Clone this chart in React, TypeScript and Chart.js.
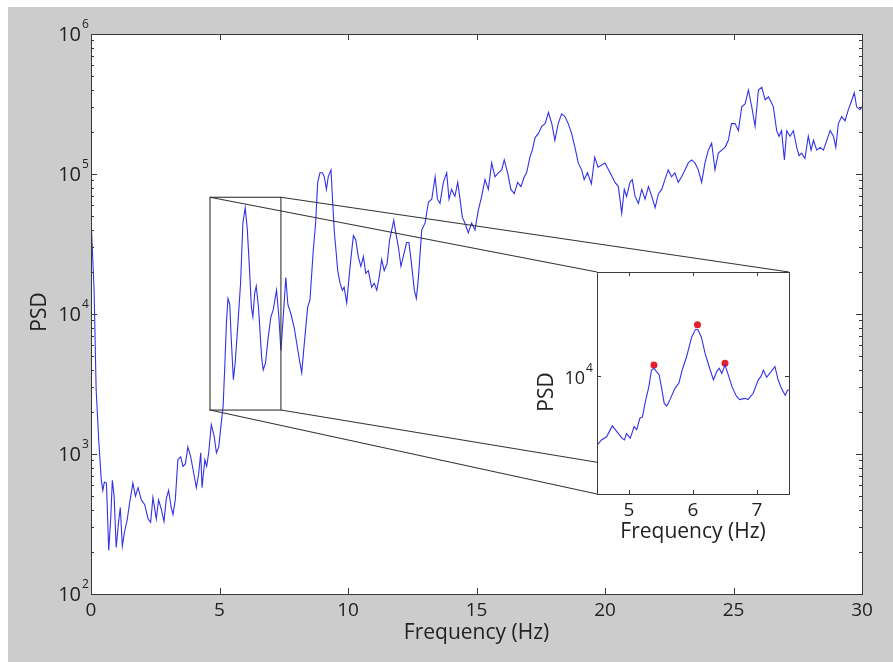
import React, { useEffect, useRef } from 'react';
import { Chart, registerables } from 'chart.js';

Chart.register(...registerables);

// ---------- data ----------
const freq = [
  0, 0.12, 0.2, 0.3, 0.4, 0.46, 0.52, 0.6, 0.69, 0.77,
  0.83, 0.9, 0.98, 1.07, 1.14, 1.22, 1.3, 1.41, 1.5, 1.63,
  1.73, 1.83, 1.96, 2.09, 2.22, 2.32, 2.41, 2.54, 2.63, 2.74,
  2.84, 2.93, 3.02, 3.12, 3.19, 3.28, 3.38, 3.49, 3.58, 3.67,
  3.77, 3.88, 3.97, 4.1, 4.19, 4.27, 4.32, 4.43, 4.5, 4.58,
  4.68, 4.79, 4.88, 4.97, 5.05, 5.14, 5.2, 5.27, 5.33, 5.4,
  5.46, 5.54, 5.61, 5.72, 5.82, 5.91, 6.0, 6.08, 6.17, 6.24,
  6.3, 6.37, 6.43, 6.52, 6.64, 6.7, 6.79, 6.9, 7.0, 7.09,
  7.22, 7.31, 7.39, 7.48, 7.58, 7.66, 7.78, 7.91, 8.04, 8.13,
  8.2, 8.3, 8.43, 8.52, 8.65, 8.74, 8.82, 8.91, 9.0, 9.08,
  9.16, 9.23, 9.34, 9.4, 9.47, 9.52, 9.6, 9.69, 9.78, 9.85,
  9.95, 10.04, 10.12, 10.21, 10.3, 10.4, 10.5, 10.6, 10.69, 10.79,
  10.92, 11.02, 11.12, 11.21, 11.31, 11.41, 11.52, 11.62, 11.7, 11.78,
  11.86, 11.96, 12.06, 12.15, 12.28, 12.37, 12.47, 12.58, 12.66, 12.74,
  12.87, 13.0, 13.13, 13.26, 13.39, 13.48, 13.58, 13.71, 13.84, 13.93,
  14.03, 14.16, 14.27, 14.36, 14.45, 14.55, 14.68, 14.81, 14.94, 15.07,
  15.2, 15.33, 15.46, 15.59, 15.72, 15.85, 15.98, 16.08, 16.21, 16.34,
  16.47, 16.6, 16.73, 16.86, 16.95, 17.08, 17.17, 17.28, 17.41, 17.54,
  17.67, 17.8, 17.93, 18.05, 18.18, 18.31, 18.44, 18.57, 18.7, 18.83,
  18.96, 19.09, 19.19, 19.32, 19.47, 19.6, 19.73, 20.0, 20.2, 20.39,
  20.52, 20.65, 20.75, 20.84, 20.97, 21.06, 21.17, 21.3, 21.43, 21.56,
  21.69, 21.82, 21.95, 22.08, 22.21, 22.33, 22.46, 22.59, 22.72, 22.85,
  22.98, 23.11, 23.24, 23.37, 23.5, 23.63, 23.76, 23.89, 24.02, 24.15,
  24.28, 24.41, 24.54, 24.67, 24.8, 24.92, 25.06, 25.19, 25.32, 25.45,
  25.58, 25.71, 25.84, 25.97, 26.1, 26.23, 26.36, 26.45, 26.55, 26.68,
  26.77, 26.87, 26.98, 27.07, 27.2, 27.33, 27.46, 27.55, 27.65, 27.78,
  27.91, 28.02, 28.11, 28.24, 28.37, 28.5, 28.63, 28.76, 28.89, 28.98,
  29.08, 29.21, 29.34, 29.47, 29.57, 29.7, 29.79, 29.92, 30.0,
];

const psd = [
  49000, 14800, 2900, 1260, 650, 550, 630, 620, 205, 355,
  650, 500, 215, 325, 415, 220, 275, 340, 445, 620,
  500, 575, 470, 435, 345, 325, 490, 345, 470, 400,
  330, 480, 550, 415, 370, 470, 910, 955, 815, 850,
  1120, 955, 775, 575, 725, 1020, 575, 910, 815, 1020,
  1620, 1350, 1020, 1120, 1550, 2190, 3980, 8710, 12900, 11700,
  6460, 3390, 4470, 8710, 16600, 44700, 57500, 40700, 20400, 11200,
  9550, 14100, 15800, 11000, 4900, 3980, 4470, 6920, 9550, 10700,
  14800, 9550, 5500, 9550, 18200, 11700, 10000, 7940, 5620, 4470,
  3800, 6170, 11200, 12600, 28800, 44700, 87100, 102000, 102000, 95500,
  77600, 95500, 107000, 64600, 38000, 30200, 20400, 16600, 14800, 15500,
  12000, 18200, 25700, 36300, 33900, 25700, 21900, 25700, 19500, 20400,
  15500, 16600, 14800, 18200, 24500, 20400, 22900, 33900, 39800, 46800,
  38000, 30200, 21900, 25700, 32400, 32400, 22900, 14800, 12900, 18200,
  39800, 44700, 63100, 66100, 95500, 66100, 61700, 87100, 102000, 66100,
  77600, 69200, 87100, 66100, 49000, 44700, 38000, 44700, 39800, 55000,
  69200, 91200, 77600, 120000, 95500, 102000, 107000, 126000, 102000, 77600,
  72400, 87100, 81300, 95500, 102000, 132000, 148000, 182000, 195000, 219000,
  229000, 275000, 229000, 174000, 229000, 269000, 257000, 229000, 195000, 155000,
  120000, 107000, 91200, 102000, 85100, 132000, 112000, 120000, 102000, 87100,
  81300, 52500, 77600, 69200, 87100, 91200, 69200, 61700, 77600, 66100,
  81300, 69200, 57500, 72400, 77600, 91200, 107000, 95500, 102000, 87100,
  95500, 107000, 120000, 126000, 120000, 107000, 87100, 120000, 148000, 166000,
  107000, 141000, 148000, 155000, 174000, 229000, 229000, 204000, 302000, 316000,
  398000, 302000, 219000, 398000, 417000, 339000, 355000, 331000, 302000, 204000,
  186000, 204000, 126000, 204000, 186000, 204000, 155000, 135000, 141000, 129000,
  186000, 148000, 174000, 148000, 155000, 148000, 174000, 204000, 186000, 155000,
  229000, 257000, 240000, 288000, 324000, 380000, 302000, 288000, 302000,
];

const insetFreq = [
  4.5, 4.57, 4.65, 4.74, 4.81, 4.89, 4.93, 4.96, 5.02, 5.08,
  5.12, 5.17, 5.21, 5.26, 5.31, 5.35, 5.39, 5.43, 5.47, 5.51,
  5.55, 5.59, 5.64, 5.72, 5.78, 5.83, 5.9, 5.98, 6.04, 6.08,
  6.13, 6.19, 6.27, 6.32, 6.37, 6.41, 6.45, 6.5, 6.55, 6.61,
  6.68, 6.73, 6.81, 6.86, 6.94, 7.02, 7.06, 7.1, 7.15, 7.22,
  7.28, 7.33, 7.38, 7.44, 7.48, 7.5,
];
const insetPsd = [
  830, 1000, 1120, 1660, 1350, 1070, 1000, 1260, 1070, 1620,
  1450, 2190, 2290, 4170, 6760, 12300, 13200, 11700, 10500, 6460,
  3720, 3390, 4270, 6460, 7760, 12300, 20000, 40700, 53700, 52500,
  40700, 22400, 12300, 8710, 11700, 13200, 11000, 14800, 10500, 6760,
  4790, 4270, 4470, 4270, 5370, 8710, 9770, 12300, 9550, 11700,
  14100, 8710, 6460, 5010, 6030, 6030,
];

const peakFreq = [5.39, 6.07, 6.5];
const peakPsd = [14800, 63100, 15800];

const xTicks = [0, 5, 10, 15, 20, 25, 30];
const yExponents = [2, 3, 4, 5, 6];
const insetXTicks = [5, 6, 7];
const insetYExponents = [4];

const xTitle = 'Frequency (Hz)';
const yTitle = 'PSD';

// zoomed region drawn on the main chart (data units)
const zoomXMin = 4.63;
const zoomXMax = 7.39;
const zoomYMin = 2060;
const zoomYMax = 68200;

// ---------- layout ----------
const FONT = '"Open Sans", "Noto Sans", sans-serif';
const W = 885;
const H = 655;
const MAIN_PAD = { left: 83, top: 27, right: 31, bottom: 68 };
// inset canvas placement (relative to the gray panel)
const INSET_CANVAS = { left: 510, top: 250, width: 285, height: 300 };
const INSET_PAD = { left: 79, top: 15, right: 14, bottom: 63 };
const INSET_AREA = {
  left: INSET_CANVAS.left + INSET_PAD.left,
  top: INSET_CANVAS.top + INSET_PAD.top,
  right: INSET_CANVAS.left + INSET_CANVAS.width - INSET_PAD.right,
  bottom: INSET_CANVAS.top + INSET_CANVAS.height - INSET_PAD.bottom,
};

const FRAME = '#3a3a3a';
const LINE_BLUE = 'rgb(50,50,232)';
const TEXT = '#222222';

function drawPow(ctx: CanvasRenderingContext2D, exp: number, xRight: number, yMid: number, big: number, small: number) {
  ctx.font = `${big}px ${FONT}`;
  ctx.textAlign = 'right';
  ctx.textBaseline = 'middle';
  ctx.fillText('10', xRight, yMid + 1);
  ctx.font = `${small}px ${FONT}`;
  ctx.textAlign = 'left';
  ctx.fillText(String(exp), xRight + 1, yMid - 9);
}

const mainDecor = {
  id: 'mainDecor',
  beforeDatasetsDraw(chart: any) {
    const { ctx, chartArea: a } = chart;
    ctx.save();
    ctx.fillStyle = '#ffffff';
    ctx.fillRect(a.left, a.top, a.right - a.left, a.bottom - a.top);
    ctx.restore();
  },
  afterDraw(chart: any) {
    const { ctx, chartArea: a } = chart;
    const xs = chart.scales.x;
    const ys = chart.scales.y;
    ctx.save();
    ctx.strokeStyle = FRAME;
    ctx.lineWidth = 1;
    ctx.strokeRect(Math.round(a.left) + 0.5, Math.round(a.top) + 0.5, Math.round(a.right - a.left), Math.round(a.bottom - a.top));
    ctx.beginPath();
    for (const t of xTicks) {
      const px = Math.round(xs.getPixelForValue(t)) + 0.5;
      ctx.moveTo(px, a.bottom);
      ctx.lineTo(px, a.bottom - 6);
      ctx.moveTo(px, a.top);
      ctx.lineTo(px, a.top + 6);
    }
    for (let i = 0; i < yExponents.length; i++) {
      const e = yExponents[i];
      const base = Math.pow(10, e);
      const py = Math.round(ys.getPixelForValue(base)) + 0.5;
      ctx.moveTo(a.left, py);
      ctx.lineTo(a.left + 6, py);
      ctx.moveTo(a.right, py);
      ctx.lineTo(a.right - 6, py);
      if (i < yExponents.length - 1) {
        for (let m = 2; m <= 9; m++) {
          const pm = Math.round(ys.getPixelForValue(base * m)) + 0.5;
          ctx.moveTo(a.left, pm);
          ctx.lineTo(a.left + 3, pm);
          ctx.moveTo(a.right, pm);
          ctx.lineTo(a.right - 3, pm);
        }
      }
    }
    ctx.stroke();

    // zoom box and connectors
    const bl = xs.getPixelForValue(zoomXMin);
    const br = xs.getPixelForValue(zoomXMax);
    const bt = ys.getPixelForValue(zoomYMax);
    const bb = ys.getPixelForValue(zoomYMin);
    ctx.strokeStyle = '#333333';
    ctx.lineWidth = 1.1;
    ctx.strokeRect(bl, bt, br - bl, bb - bt);
    ctx.beginPath();
    ctx.moveTo(bl, bt); ctx.lineTo(INSET_AREA.left, INSET_AREA.top);
    ctx.moveTo(br, bt); ctx.lineTo(INSET_AREA.right, INSET_AREA.top);
    ctx.moveTo(bl, bb); ctx.lineTo(INSET_AREA.left, INSET_AREA.bottom);
    ctx.moveTo(br, bb); ctx.lineTo(INSET_AREA.right, INSET_AREA.bottom);
    ctx.stroke();

    // labels
    ctx.fillStyle = TEXT;
    ctx.font = `19px ${FONT}`;
    ctx.textAlign = 'center';
    ctx.textBaseline = 'middle';
    for (const t of xTicks) {
      ctx.fillText(String(t), xs.getPixelForValue(t), a.bottom + 17);
    }
    for (const e of yExponents) {
      drawPow(ctx, e, a.left - 10, ys.getPixelForValue(Math.pow(10, e)), 20, 12);
    }
    ctx.font = `21px ${FONT}`;
    ctx.textAlign = 'center';
    ctx.textBaseline = 'middle';
    ctx.fillText(xTitle, (a.left + a.right) / 2, a.bottom + 39);
    ctx.save();
    ctx.translate(32, (a.top + a.bottom) / 2 - 2);
    ctx.rotate(-Math.PI / 2);
    ctx.fillText(yTitle, 0, 0);
    ctx.restore();
    ctx.restore();
  },
};

const insetDecor = {
  id: 'insetDecor',
  beforeDatasetsDraw(chart: any) {
    const { ctx, chartArea: a } = chart;
    ctx.save();
    ctx.fillStyle = '#ffffff';
    ctx.fillRect(a.left, a.top, a.right - a.left, a.bottom - a.top);
    ctx.restore();
  },
  afterDraw(chart: any) {
    const { ctx, chartArea: a } = chart;
    const xs = chart.scales.x;
    const ys = chart.scales.y;
    ctx.save();
    ctx.strokeStyle = FRAME;
    ctx.lineWidth = 1;
    ctx.strokeRect(Math.round(a.left) + 0.5, Math.round(a.top) + 0.5, Math.round(a.right - a.left), Math.round(a.bottom - a.top));
    ctx.beginPath();
    for (const t of insetXTicks) {
      const px = Math.round(xs.getPixelForValue(t)) + 0.5;
      ctx.moveTo(px, a.bottom);
      ctx.lineTo(px, a.bottom - 4);
      ctx.moveTo(px, a.top);
      ctx.lineTo(px, a.top + 4);
    }
    for (const e of insetYExponents) {
      const py = Math.round(ys.getPixelForValue(Math.pow(10, e))) + 0.5;
      ctx.moveTo(a.left, py);
      ctx.lineTo(a.left + 4, py);
      ctx.moveTo(a.right, py);
      ctx.lineTo(a.right - 4, py);
    }
    ctx.stroke();

    ctx.fillStyle = TEXT;
    ctx.font = `19px ${FONT}`;
    ctx.textAlign = 'center';
    ctx.textBaseline = 'middle';
    for (const t of insetXTicks) {
      ctx.fillText(String(t), xs.getPixelForValue(t), a.bottom + 17);
    }
    for (const e of insetYExponents) {
      drawPow(ctx, e, a.left - 12, ys.getPixelForValue(Math.pow(10, e)) + 2, 18, 12);
    }
    ctx.font = `21px ${FONT}`;
    ctx.textAlign = 'center';
    ctx.textBaseline = 'middle';
    ctx.fillText(xTitle, (a.left + a.right) / 2, a.bottom + 38);
    ctx.save();
    ctx.translate(a.left - 50, (a.top + a.bottom) / 2 + 9);
    ctx.rotate(-Math.PI / 2);
    ctx.fillText(yTitle, 0, 0);
    ctx.restore();
    ctx.restore();
  },
};

export default function App() {
  const mainRef = useRef<HTMLCanvasElement | null>(null);
  const insetRef = useRef<HTMLCanvasElement | null>(null);

  useEffect(() => {
    if (!mainRef.current || !insetRef.current) return;
    const n = Math.min(freq.length, psd.length);
    const mainPts = [];
    for (let i = 0; i < n; i++) mainPts.push({ x: freq[i], y: psd[i] });
    const ni = Math.min(insetFreq.length, insetPsd.length);
    const insetPts = [];
    for (let i = 0; i < ni; i++) insetPts.push({ x: insetFreq[i], y: insetPsd[i] });
    const peakPts = peakFreq.map((f, i) => ({ x: f, y: peakPsd[i] }));

    const main = new Chart(mainRef.current, {
      type: 'line',
      data: {
        datasets: [
          {
            data: mainPts,
            borderColor: LINE_BLUE,
            borderWidth: 1.1,
            pointRadius: 0,
            tension: 0,
            fill: false,
          },
        ],
      },
      options: {
        animation: false,
        responsive: false,
        maintainAspectRatio: false,
        layout: { padding: MAIN_PAD },
        plugins: { legend: { display: false }, tooltip: { enabled: false } },
        scales: {
          x: { type: 'linear', min: 0, max: 30, display: false },
          y: { type: 'logarithmic', min: 100, max: 1000000, display: false },
        },
      },
      plugins: [mainDecor],
    } as any);

    const inset = new Chart(insetRef.current, {
      type: 'line',
      data: {
        datasets: [
          {
            data: insetPts,
            borderColor: LINE_BLUE,
            borderWidth: 1.1,
            pointRadius: 0,
            tension: 0,
            fill: false,
          },
          {
            data: peakPts,
            showLine: false,
            pointRadius: 3.5,
            pointBackgroundColor: 'rgb(230,30,45)',
            pointBorderColor: 'rgb(230,30,45)',
            pointBorderWidth: 0,
          },
        ],
      },
      options: {
        animation: false,
        responsive: false,
        maintainAspectRatio: false,
        layout: { padding: INSET_PAD },
        plugins: { legend: { display: false }, tooltip: { enabled: false } },
        scales: {
          x: { type: 'linear', min: 4.5, max: 7.5, display: false },
          y: { type: 'logarithmic', min: 143, max: 422000, display: false },
        },
      },
      plugins: [insetDecor],
    } as any);

    return () => {
      main.destroy();
      inset.destroy();
    };
  }, []);

  return (
    <div
      style={{
        position: 'fixed',
        left: 8,
        top: 7,
        right: 0,
        bottom: 0,
        background: '#cccccc',
        overflow: 'hidden',
      }}
    >
      <canvas
        ref={mainRef}
        width={W}
        height={H}
        style={{ position: 'absolute', left: 0, top: 0, width: W, height: H }}
      />
      <canvas
        ref={insetRef}
        width={INSET_CANVAS.width}
        height={INSET_CANVAS.height}
        style={{
          position: 'absolute',
          left: INSET_CANVAS.left,
          top: INSET_CANVAS.top,
          width: INSET_CANVAS.width,
          height: INSET_CANVAS.height,
        }}
      />
    </div>
  );
}
